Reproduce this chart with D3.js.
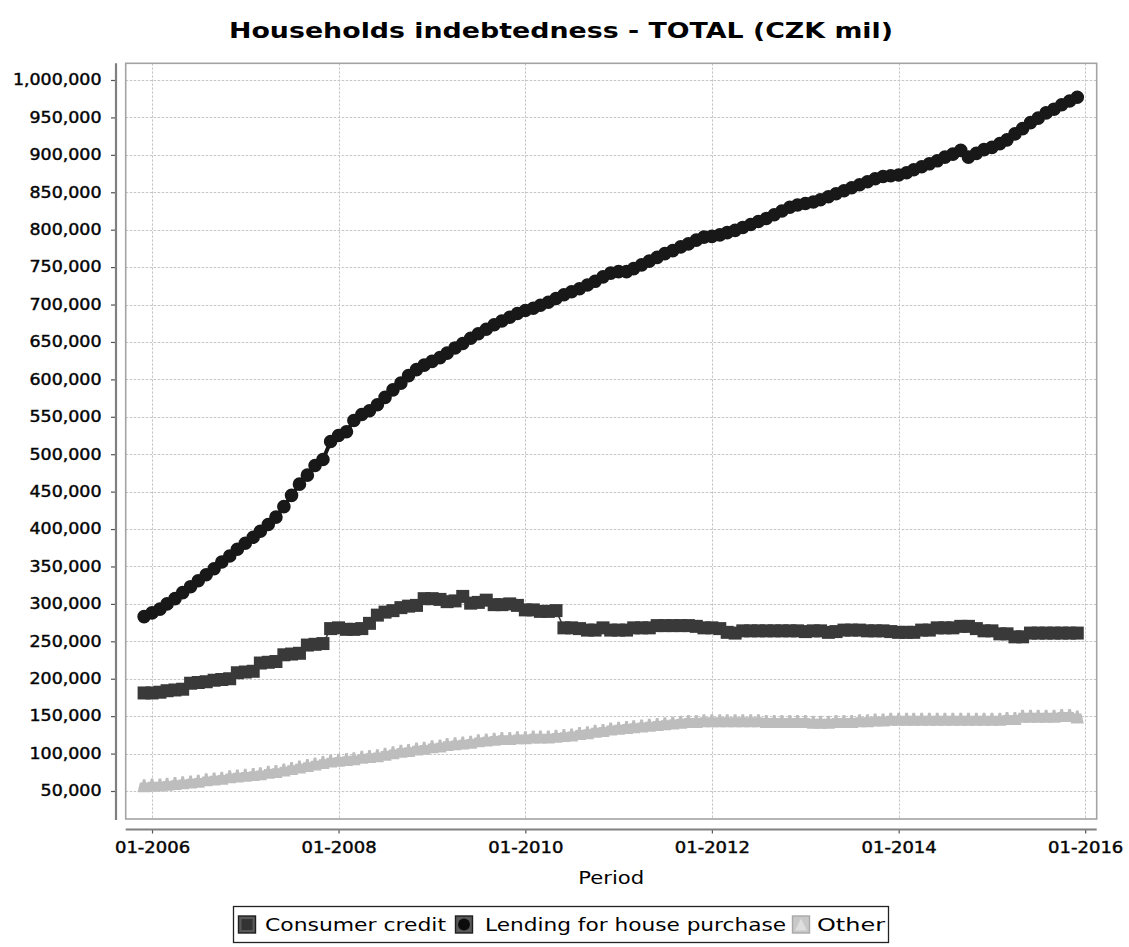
<!DOCTYPE html>
<html>
<head>
<meta charset="utf-8">
<script src="https://cdn.jsdelivr.net/npm/d3@7"></script>
<style>
  body { margin: 0; background: #fff; }
  svg { display: block; }
  text { font-family: "DejaVu Sans", "Liberation Sans", sans-serif; fill: #000; }
  .heavy { stroke: #111; stroke-width: 0.45px; }
</style>
</head>
<body>
<svg id="chart" width="1129" height="947"></svg>
<script>
// ---- data (CZK mil, monthly, 12-2005 .. 12-2015) ----
const chartTitle = "Households indebtedness - TOTAL (CZK mil)";
const xAxisTitle = "Period";
const seriesNames = ["Consumer credit", "Lending for house purchase", "Other"];

const periods = d3.timeMonth.range(new Date(2005, 11, 1), new Date(2016, 0, 2));

const consumerCredit = [
  181000,
  181000, 182000, 184000, 185000, 186000, 194000, 195000, 196000, 198000, 199000, 200000, 208000,
  209000, 210000, 221000, 222000, 223000, 232000, 233000, 234000, 245000, 246000, 247000, 267000,
  268000, 266000, 266000, 267000, 274000, 285000, 289000, 291000, 295000, 297000, 298000, 307000,
  307000, 306000, 303000, 304000, 310000, 301000, 302000, 305000, 299000, 299000, 300000, 298000,
  292000, 292000, 290000, 290000, 291000, 268000, 268000, 267000, 265000, 265000, 268000, 265000,
  265000, 265000, 268000, 268000, 268000, 271000, 271000, 271000, 271000, 271000, 270000, 268000,
  268000, 267000, 262000, 261000, 264000, 264000, 264000, 264000, 264000, 264000, 264000, 264000,
  263000, 264000, 264000, 262000, 263000, 265000, 265000, 265000, 264000, 264000, 264000, 263000,
  262000, 262000, 262000, 265000, 265000, 268000, 268000, 268000, 270000, 270000, 267000, 264000,
  264000, 260000, 260000, 256000, 256000, 261000, 261000, 261000, 261000, 261000, 261000, 261000
];

const lendingHousePurchase = [
  283000,
  288000, 293000, 300000, 307000, 315000, 323000, 331000, 339000, 347000, 356000, 364000, 373000,
  381000, 389000, 397000, 406000, 416000, 430000, 445000, 460000, 472000, 485000, 493000, 517000,
  525000, 530000, 545000, 553000, 558000, 566000, 576000, 586000, 595000, 605000, 613000, 619000,
  624000, 629000, 635000, 642000, 648000, 655000, 661000, 667000, 673000, 678000, 683000, 688000,
  692000, 695000, 699000, 703000, 708000, 713000, 717000, 721000, 726000, 731000, 737000, 742000,
  744000, 744000, 748000, 753000, 758000, 763000, 768000, 772000, 777000, 781000, 786000, 790000,
  791000, 793000, 796000, 799000, 803000, 807000, 811000, 815000, 820000, 825000, 830000, 833000,
  835000, 837000, 840000, 844000, 848000, 852000, 856000, 860000, 864000, 868000, 871000, 872000,
  873000, 876000, 880000, 884000, 888000, 892000, 897000, 901000, 906000, 897000, 902000, 907000,
  910000, 915000, 920000, 928000, 935000, 943000, 949000, 956000, 961000, 967000, 972000, 977000
];

const otherLoans = [
  57000,
  58000, 58000, 59000, 60000, 61000, 62000, 63000, 65000, 66000, 67000, 69000, 70000,
  71000, 72000, 73000, 75000, 76000, 78000, 80000, 82000, 84000, 86000, 88000, 90000,
  91000, 92000, 93000, 95000, 96000, 97000, 99000, 101000, 103000, 104000, 106000, 107000,
  109000, 110000, 112000, 113000, 114000, 115000, 117000, 118000, 119000, 120000, 120000, 121000,
  121000, 122000, 122000, 122000, 123000, 124000, 125000, 127000, 128000, 130000, 131000, 133000,
  134000, 135000, 136000, 137000, 138000, 139000, 140000, 141000, 142000, 143000, 143000, 144000,
  144000, 144000, 144000, 144000, 144000, 144000, 144000, 143000, 143000, 143000, 143000, 143000,
  143000, 142000, 142000, 142000, 143000, 143000, 143000, 144000, 144000, 145000, 145000, 146000,
  146000, 146000, 146000, 146000, 146000, 146000, 146000, 146000, 146000, 146000, 146000, 146000,
  146000, 146000, 147000, 147000, 150000, 150000, 150000, 150000, 150000, 151000, 151000, 149000
];

const yTickValues = [50000, 100000, 150000, 200000, 250000, 300000, 350000, 400000, 450000, 500000,
  550000, 600000, 650000, 700000, 750000, 800000, 850000, 900000, 950000, 1000000];
const xTickYears = [2006, 2008, 2010, 2012, 2014, 2016];

// ---- layout ----
const plot = { left: 125.7, right: 1096.7, top: 63.3, bottom: 819 };
const svg = d3.select("#chart");

const x = d3.scaleTime()
  .domain([new Date(2005, 8, 20), new Date(2016, 1, 15)])
  .range([plot.left, plot.right]);
const y = d3.scaleLinear()
  .domain([12600, 1022300])
  .range([plot.bottom, plot.top]);

const xTicks = xTickYears.map(yr => new Date(yr, 0, 1));

// stretch glyphs horizontally (wide-set Java-style lettering)
function widen(sel, k) {
  sel.each(function () {
    const w = this.getComputedTextLength();
    this.setAttribute("textLength", (w * k).toFixed(1));
    this.setAttribute("lengthAdjust", "spacingAndGlyphs");
  });
}
function fitWidth(sel, target) {
  sel.attr("textLength", target).attr("lengthAdjust", "spacingAndGlyphs");
}

// ---- grid & plot frame ----
const crisp = v => Math.round(v) + 0.5;
const grid = svg.append("g").attr("class", "grid")
  .attr("stroke", "#c6c6c6").attr("stroke-width", 1).attr("stroke-dasharray", "2.5,1.5");
grid.selectAll("line.h").data(yTickValues).join("line").attr("class", "h")
  .attr("x1", plot.left).attr("x2", plot.right)
  .attr("y1", d => crisp(y(d))).attr("y2", d => crisp(y(d)));
grid.selectAll("line.v").data(xTicks).join("line").attr("class", "v")
  .attr("y1", plot.top).attr("y2", plot.bottom)
  .attr("x1", d => crisp(x(d))).attr("x2", d => crisp(x(d)));

svg.append("rect")
  .attr("x", plot.left).attr("y", plot.top)
  .attr("width", plot.right - plot.left).attr("height", plot.bottom - plot.top)
  .attr("fill", "none").attr("stroke", "#a3a3a3").attr("stroke-width", 1.6);

// ---- axes ----
const yAxisX = 116, xAxisY = 829.5;
const yAxisG = svg.append("g").attr("transform", `translate(${yAxisX},0)`)
  .call(d3.axisLeft(y).tickValues(yTickValues).tickSize(5).tickPadding(9.5)
    .tickFormat(d3.format(",")));
yAxisG.select(".domain").remove();
yAxisG.selectAll(".tick line").attr("stroke", "#555").attr("stroke-width", 1.2);
yAxisG.selectAll(".tick text").attr("font-size", 15).attr("fill", "#111")
  .attr("font-family", "DejaVu Sans").classed("heavy", true);
widen(yAxisG.selectAll(".tick text"), 1.16);
svg.append("line").attr("x1", yAxisX).attr("x2", yAxisX)
  .attr("y1", plot.top).attr("y2", plot.bottom + 1)
  .attr("stroke", "#808080").attr("stroke-width", 2.2);

const xAxisG = svg.append("g").attr("transform", `translate(0,${xAxisY})`)
  .call(d3.axisBottom(x).tickValues(xTicks).tickSize(4).tickPadding(9)
    .tickFormat(d3.timeFormat("%m-%Y")));
xAxisG.select(".domain").remove();
xAxisG.selectAll(".tick line").attr("stroke", "#555").attr("stroke-width", 1.2);
xAxisG.selectAll(".tick text").attr("font-size", 15).attr("fill", "#111")
  .attr("font-family", "DejaVu Sans").classed("heavy", true);
widen(xAxisG.selectAll(".tick text"), 1.2);
svg.append("line").attr("x1", plot.left).attr("x2", plot.right)
  .attr("y1", xAxisY).attr("y2", xAxisY)
  .attr("stroke", "#808080").attr("stroke-width", 2.2);

svg.append("text").attr("x", (plot.left + plot.right) / 2).attr("y", 884)
  .attr("text-anchor", "middle").attr("font-size", 18).attr("fill", "#111")
  .text(xAxisTitle).call(fitWidth, 66);

// ---- title ----
svg.append("text").attr("x", 561).attr("y", 38)
  .attr("text-anchor", "middle").attr("font-size", 22).attr("font-weight", "bold")
  .text(chartTitle).call(fitWidth, 664);

// ---- series ----
const sq = 6.5;
const shapes = {
  square: `M${-sq},${-sq}H${sq}V${sq}H${-sq}Z`,
  circle: d3.symbol(d3.symbolCircle, Math.PI * 6.8 * 6.8)(),
  triangle: "M-6.5,6.5L-4.2,-3.3L-1.9,-3.3L-1.3,-6.5L1.3,-6.5L1.9,-3.3L4.2,-3.3L6.5,6.5Z"
};
const series = [
  { name: seriesNames[2], values: otherLoans, color: "#bdbdbd", shape: shapes.triangle, lw: 1.5 },
  { name: seriesNames[0], values: consumerCredit, color: "#393939", shape: shapes.square, lw: 1.5 },
  { name: seriesNames[1], values: lendingHousePurchase, color: "#181818", shape: shapes.circle, lw: 4 }
];
const line = d3.line().x((d, i) => x(periods[i])).y(d => y(d));
series.forEach(s => {
  const g = svg.append("g");
  g.append("path").attr("d", line(s.values)).attr("fill", "none")
    .attr("stroke", s.color).attr("stroke-width", s.lw);
  g.selectAll("path.m").data(s.values).join("path").attr("class", "m")
    .attr("d", s.shape)
    .attr("transform", (d, i) => `translate(${x(periods[i])},${y(d)})`)
    .attr("fill", s.color);
});

// ---- legend ----
const lg = svg.append("g");
lg.append("rect").attr("x", 233.5).attr("y", 906.5).attr("width", 655).attr("height", 36)
  .attr("fill", "#fff").attr("stroke", "#222").attr("stroke-width", 1.3);
const legendItems = [
  { label: seriesNames[0], ix: 238, tx: 265, tw: 181, box: "#585858", edge: "#1e1e1e", inner: "#333", shape: "square" },
  { label: seriesNames[1], ix: 455, tx: 485, tw: 301, box: "#585858", edge: "#1e1e1e", inner: "#0c0c0c", shape: "circle" },
  { label: seriesNames[2], ix: 792, tx: 817, tw: 68, box: "#c8c8c8", edge: "#a8a8a8", inner: "#dedede", shape: "triangle" }
];
legendItems.forEach(it => {
  const cy = 924.5, s = 17;
  lg.append("rect").attr("x", it.ix + 0.5).attr("y", cy - s / 2).attr("width", s).attr("height", s)
    .attr("fill", it.box).attr("stroke", it.edge).attr("stroke-width", 1.4);
  const cx = it.ix + 0.5 + s / 2;
  if (it.shape === "square") {
    lg.append("rect").attr("x", cx - 5.5).attr("y", cy - 5.5).attr("width", 11).attr("height", 11).attr("fill", it.inner);
  } else if (it.shape === "circle") {
    lg.append("circle").attr("cx", cx).attr("cy", cy).attr("r", 6).attr("fill", it.inner);
  } else {
    lg.append("path").attr("d", `M${cx},${cy - 6}L${cx + 6},${cy + 6}L${cx - 6},${cy + 6}Z`).attr("fill", it.inner);
  }
  lg.append("text").attr("x", it.tx).attr("y", 931).attr("font-size", 18).attr("fill", "#111")
    .text(it.label).call(fitWidth, it.tw);
});
</script>
</body>
</html>
